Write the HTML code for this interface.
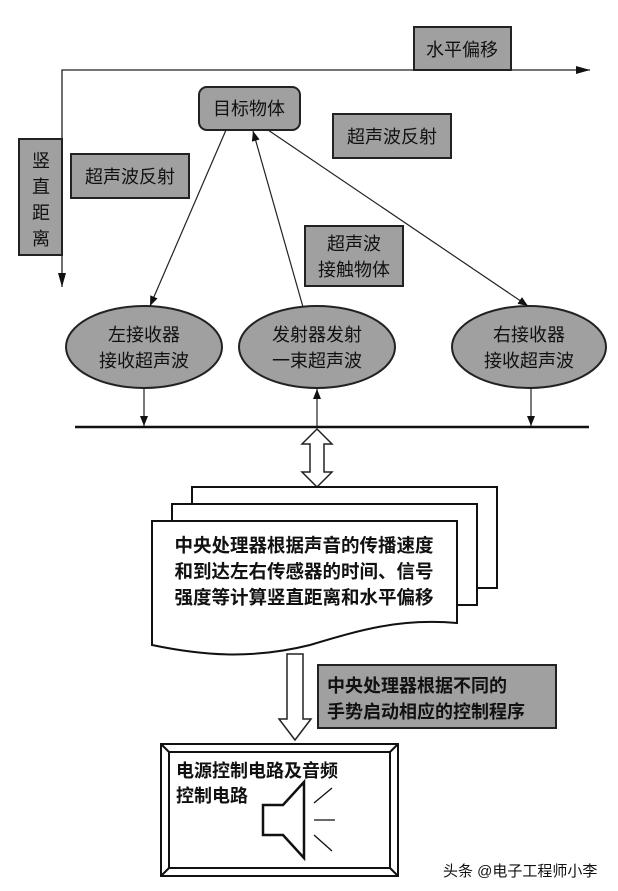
<!DOCTYPE html>
<html><head><meta charset="utf-8"><style>
body{margin:0;background:#fff;}
svg{display:block;}
text{font-family:"Liberation Sans","Noto Sans CJK SC",sans-serif;fill:#111;}
</style></head><body>
<svg width="618" height="891" viewBox="0 0 618 891" xmlns="http://www.w3.org/2000/svg">
<defs>
<marker id="a" markerWidth="10" markerHeight="8" refX="10" refY="4" orient="auto" markerUnits="userSpaceOnUse"><path d="M0,0 L10,4 L0,8 Z" fill="#111"/></marker>
</defs>
<g stroke="#222" fill="none" stroke-width="1.3">
<polyline points="62,287 62,70 590,70"/>
</g>
<path d="M576,66 L590,70 L576,74Z" fill="#111"/>
<path d="M58,273 L62,287 L66,273Z" fill="#111"/>
<g fill="#a0a0a0" stroke="#222" stroke-width="2">
<rect x="414" y="27" width="97" height="43"/>
<rect x="19" y="139" width="43" height="116"/>
<rect x="199" y="87" width="101" height="43" rx="8"/>
<rect x="333" y="114" width="118" height="44"/>
<rect x="71" y="154" width="118" height="44"/>
<rect x="305" y="226" width="98" height="60"/>
<ellipse cx="144" cy="347" rx="78" ry="41"/>
<ellipse cx="317" cy="347" rx="78" ry="41"/>
<ellipse cx="529" cy="347" rx="77" ry="41"/>
<rect x="318" y="665" width="238" height="63"/>
</g>
<g font-size="18" text-anchor="middle">
<text x="462" y="56">水平偏移</text>
<text x="41" y="167">竖</text><text x="41" y="193">直</text><text x="41" y="219">距</text><text x="41" y="245">离</text>
<text x="249" y="115">目标物体</text>
<text x="392" y="143">超声波反射</text>
<text x="130" y="183">超声波反射</text>
<text x="354" y="250">超声波</text><text x="354" y="276">接触物体</text>
<text x="144" y="341">左接收器</text><text x="144" y="367">接收超声波</text>
<text x="317" y="341">发射器发射</text><text x="317" y="367">一束超声波</text>
<text x="529" y="341">右接收器</text><text x="529" y="367">接收超声波</text>
</g>
<g stroke="#222" stroke-width="1.2" fill="none">
<line x1="226" y1="130" x2="150" y2="306" marker-end="url(#a)"/>
<line x1="303" y1="307" x2="253" y2="131" marker-end="url(#a)"/>
<line x1="268" y1="130" x2="528" y2="306" marker-end="url(#a)"/>
<line x1="144" y1="388" x2="144" y2="426" marker-end="url(#a)"/>
<line x1="531" y1="388" x2="531" y2="426" marker-end="url(#a)"/>
<line x1="317" y1="427" x2="317" y2="389" marker-end="url(#a)"/>
</g>
<line x1="75" y1="427" x2="589" y2="427" stroke="#111" stroke-width="2.5"/>
<path d="M317,429 L332,444 L324,444 L324,472 L332,472 L317,487 L302,472 L310,472 L310,444 L302,444 Z" fill="#fff" stroke="#222" stroke-width="1.5"/>
<g fill="#fff" stroke="#111" stroke-width="2">
<rect x="192" y="487" width="305" height="101"/>
<rect x="172" y="504" width="305" height="101"/>
<path d="M152,521 L457,521 L457,623 C400,618 360,630 310,645 C250,660 200,655 152,645 Z"/>
</g>
<g font-size="18.5" text-anchor="middle" font-weight="bold">
<text x="304" y="552" fill="#111">中央处理器根据声音的传播速度</text>
<text x="304" y="578">和到达左右传感器的时间、信号</text>
<text x="304" y="604">强度等计算竖直距离和水平偏移</text>
</g>
<path d="M287,654 L303,654 L303,719 L311,719 L295,740 L279,719 L287,719 Z" fill="#fff" stroke="#222" stroke-width="1.5"/>
<g font-size="18" font-weight="bold">
<text x="327" y="692">中央处理器根据不同的</text>
<text x="327" y="718">手势启动相应的控制程序</text>
</g>
<g fill="none" stroke="#111" stroke-width="2">
<rect x="161" y="744" width="237" height="132"/>
<rect x="169" y="752" width="221" height="116"/>
<line x1="161" y1="744" x2="169" y2="752"/><line x1="398" y1="744" x2="390" y2="752"/>
<line x1="161" y1="876" x2="169" y2="868"/><line x1="398" y1="876" x2="390" y2="868"/>
<path d="M263,805 L283,805 L304,782 L304,858 L283,835 L263,835 Z" stroke-width="2.5"/>
</g>
<g stroke="#111" stroke-width="1.3">
<line x1="314" y1="803" x2="332" y2="788"/><line x1="314" y1="820" x2="335" y2="820"/><line x1="314" y1="835" x2="332" y2="851"/>
</g>
<g font-size="18" font-weight="bold">
<text x="176" y="777">电源控制电路及音频</text>
<text x="176" y="802">控制电路</text>
</g>
<text x="443" y="876" font-size="15" fill="#555">头条 @电子工程师小李</text>
</svg>
</body></html>
